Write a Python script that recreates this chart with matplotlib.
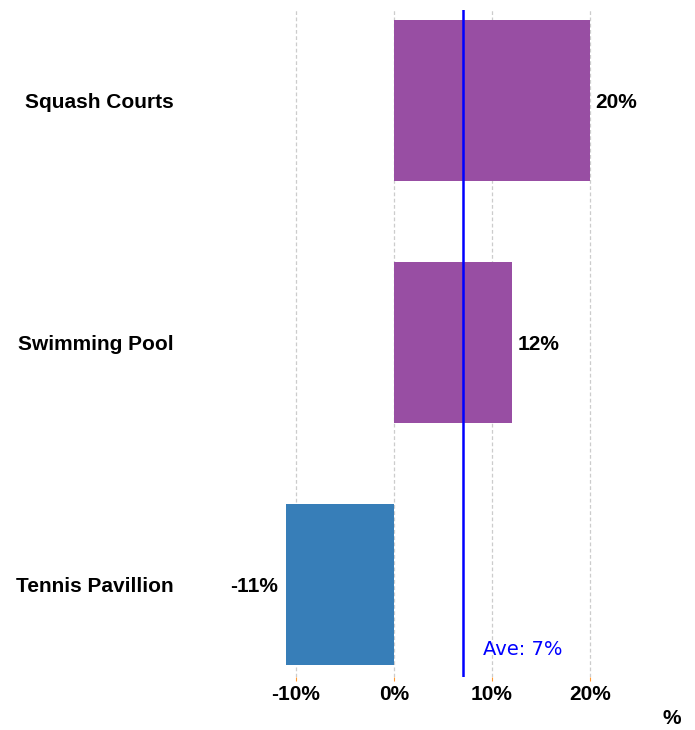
import matplotlib
matplotlib.use("Agg")
import matplotlib.pyplot as plt

categories = ["Tennis Pavillion", "Swimming Pool", "Squash Courts"]
values = [-11, 12, 20]
colors = ["#377EB8", "#984EA3", "#984EA3"]
average = 7
ticks = [-10, 0, 10, 20]
tick_labels = ["-10%", "0%", "10%", "20%"]

FS = 15
fig = plt.figure(figsize=(6.95, 7.3), dpi=100)
ax = fig.add_axes([0.3977, 0.0726, 0.4935, 0.9137])

ypos = list(range(len(categories)))
ax.barh(ypos, values, height=0.665, color=colors, zorder=2)
ax.set_xlim(-12, 23)
ax.set_ylim(-0.382, 2.374)

for s in ax.spines.values():
    s.set_visible(False)

ax.set_xticks(ticks)
ax.set_xticklabels(tick_labels, fontsize=FS, fontweight="bold", family="Liberation Sans")
ax.tick_params(axis="x", length=3, color="#FF9933", pad=3)
ax.grid(axis="x", color="#cccccc", linestyle=(0, (3, 2)), linewidth=0.9, zorder=0)

ax.set_yticks(ypos)
ax.set_yticklabels(categories, fontsize=FS, fontweight="bold", family="Liberation Sans")
ax.tick_params(axis="y", length=0, pad=74)

for y, v in zip(ypos, values):
    if v >= 0:
        ax.annotate(f"{v}%", (v, y), xytext=(4, -1.5), textcoords="offset points",
                    ha="left", va="center", fontsize=FS, fontweight="bold", family="Liberation Sans")
    else:
        ax.annotate(f"{v}%", (v, y), xytext=(-6, -1.5), textcoords="offset points",
                    ha="right", va="center", fontsize=FS, fontweight="bold", family="Liberation Sans")

ax.axvline(average, color="#0000FF", linewidth=1.8, zorder=3)
ax.annotate(f"Ave: {average}%", (average, -0.27), xytext=(15, 0), textcoords="offset points",
            ha="left", va="center", fontsize=14, color="#0000FF", family="DejaVu Sans")

fig.text(672/695, 1 - 719/730, "%", ha="center", va="center", fontsize=FS,
         fontweight="bold", family="Liberation Sans")

fig.savefig("out.png", dpi=100)
